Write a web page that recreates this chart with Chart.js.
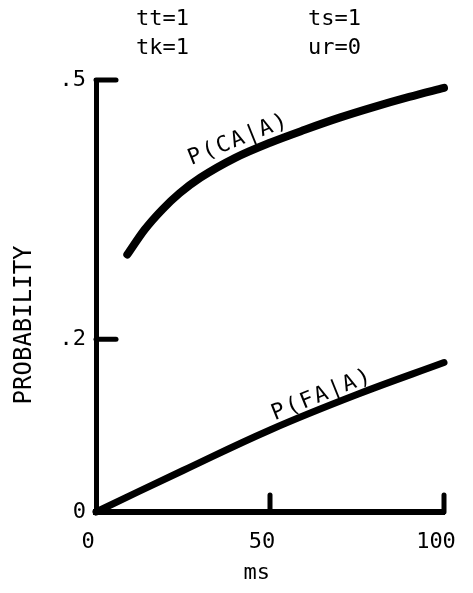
<!DOCTYPE html>
<html>
<head>
<meta charset="utf-8">
<script src="https://cdn.jsdelivr.net/npm/chart.js@4/dist/chart.umd.min.js"></script>
<style>
  html, body { margin: 0; padding: 0; background: #fff; }
  #wrap { width: 473px; height: 593px; }
</style>
</head>
<body>
<div id="wrap"><canvas id="c" width="473" height="593"></canvas></div>
<script>
// ---- data ----
const caMs   = [9, 14, 19, 24, 30, 40, 50, 60, 70, 80, 90, 100];
const caProb = [0.298, 0.327, 0.350, 0.369, 0.387, 0.410, 0.4275, 0.4425, 0.4565, 0.469, 0.4805, 0.491];
const faMs   = [0, 25, 50, 75, 100];
const faProb = [0, 0.048, 0.095, 0.136, 0.173];
const xTicks = [0, 50, 100];
const xTickLabels = ['0', '50', '100'];
const yTicks = [0, 0.2, 0.5];
const yTickLabels = ['0', '.2', '.5'];
const headerLines = ['    tt=1         ts=1', '    tk=1         ur=0'];
const curveLabels = [
  { text: 'P(CA|A)', x: 41, y: 0.431, angle: -22 },
  { text: 'P(FA|A)', x: 65, y: 0.1354, angle: -22 }
];

const FONT = 'DejaVu Sans Mono';
const INK = '#000';

const toPts = (xs, ys) => xs.map((x, i) => ({ x, y: ys[i] }));

const innerTicks = {
  id: 'innerTicks',
  afterDatasetsDraw(chart) {
    const { ctx, scales: { x, y } } = chart;
    ctx.save();
    ctx.strokeStyle = INK;
    ctx.lineWidth = 5;
    ctx.lineCap = 'round';
    yTicks.forEach(v => {
      if (v === 0) return;
      const py = y.getPixelForValue(v);
      ctx.beginPath();
      ctx.moveTo(x.left, py);
      ctx.lineTo(x.left + 20, py);
      ctx.stroke();
    });
    xTicks.forEach(v => {
      if (v === 0) return;
      const px = x.getPixelForValue(v);
      ctx.beginPath();
      ctx.moveTo(px, y.bottom);
      ctx.lineTo(px, y.bottom - 17);
      ctx.stroke();
    });
    // curve labels
    ctx.fillStyle = INK;
    ctx.font = '22px "' + FONT + '"';
    ctx.textAlign = 'center';
    ctx.textBaseline = 'middle';
    try { ctx.letterSpacing = '2px'; } catch (e) {}
    curveLabels.forEach(l => {
      const px = x.getPixelForValue(l.x);
      const py = y.getPixelForValue(l.y);
      ctx.save();
      ctx.translate(px, py);
      ctx.rotate(l.angle * Math.PI / 180);
      ctx.fillText(l.text, 0, 0);
      ctx.restore();
    });
    ctx.restore();
  }
};

new Chart(document.getElementById('c'), {
  type: 'line',
  data: {
    datasets: [
      {
        label: 'P(CA|A)',
        data: toPts(caMs, caProb),
        borderColor: INK,
        borderWidth: 8,
        borderCapStyle: 'round',
        borderJoinStyle: 'round',
        pointRadius: 0,
        cubicInterpolationMode: 'monotone',
        fill: false,
        clip: false
      },
      {
        label: 'P(FA|A)',
        data: toPts(faMs, faProb),
        borderColor: INK,
        borderWidth: 7,
        borderCapStyle: 'round',
        borderJoinStyle: 'round',
        pointRadius: 0,
        tension: 0.4,
        fill: false,
        clip: false
      }
    ]
  },
  options: {
    responsive: false,
    animation: false,
    devicePixelRatio: 1,
    layout: { padding: { left: 0, right: 29, top: 0, bottom: 0 } },
    plugins: {
      legend: { display: false },
      tooltip: { enabled: false },
      title: {
        display: true,
        text: headerLines,
        color: INK,
        font: { family: FONT, size: 22, weight: 'normal', lineHeight: 1.32 },
        padding: { top: 5, bottom: 17 }
      }
    },
    scales: {
      x: {
        type: 'linear',
        min: 0,
        max: 100,
        afterBuildTicks: s => { s.ticks = xTicks.map(v => ({ value: v })); },
        afterFit: s => { s.height = 81; s.paddingLeft = 0; s.paddingRight = 0; },
        grid: { display: false, drawTicks: false },
        border: { display: true, color: INK, width: 6 },
        ticks: {
          color: INK,
          font: { family: FONT, size: 22 },
          padding: 17,
          labelOffset: -8,
          maxRotation: 0,
          callback: (v) => xTickLabels[xTicks.indexOf(v)]
        },
        title: {
          display: true,
          text: 'ms  ',
          color: INK,
          font: { family: FONT, size: 22 },
          padding: { top: 0, bottom: 7 }
        }
      },
      y: {
        type: 'linear',
        min: 0,
        max: 0.5,
        afterBuildTicks: s => { s.ticks = yTicks.map(v => ({ value: v })); },
        afterFit: s => { s.width = 96; s.paddingTop = 0; s.paddingBottom = 0; },
        grid: { display: false, drawTicks: false },
        border: { display: true, color: INK, width: 5 },
        ticks: {
          color: INK,
          font: { family: FONT, size: 22 },
          padding: 10,
          callback: (v) => yTickLabels[yTicks.indexOf(v)]
        },
        title: {
          display: true,
          text: 'PROBABILITY    ',
          color: INK,
          font: { family: FONT, size: 24 },
          padding: { top: 10, bottom: 0 }
        }
      }
    }
  },
  plugins: [innerTicks]
});
</script>
</body>
</html>
